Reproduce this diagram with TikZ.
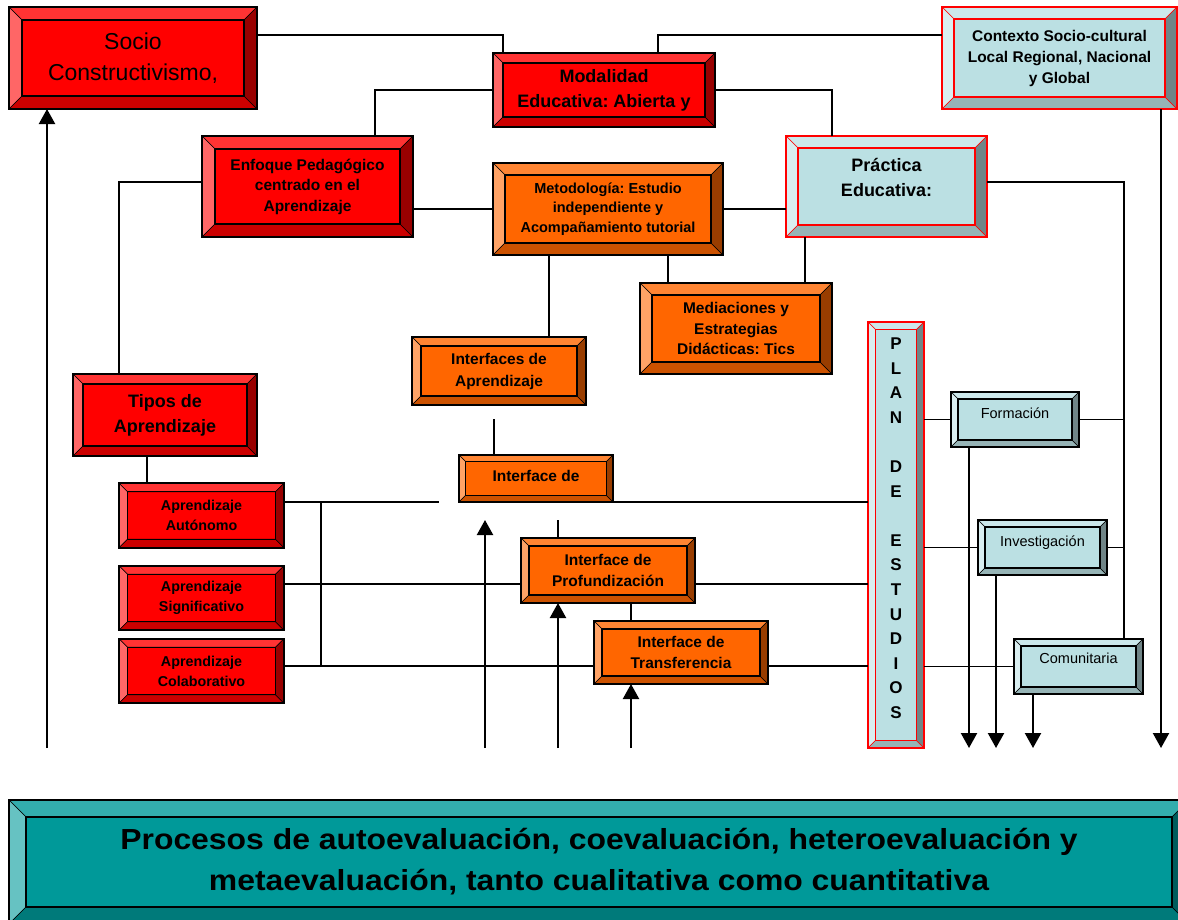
\documentclass[tikz,border=0pt]{standalone}
\usepackage{fontspec}
\setmainfont{Liberation Sans}
\newfontfamily\widefont[FakeStretch=1.1]{Liberation Sans}
\usetikzlibrary{arrows.meta}
\usetikzlibrary{calc}
\usepackage{xcolor}
\frenchspacing

\definecolor{rdtop}{HTML}{FF3333}
\definecolor{rdlft}{HTML}{FF6666}
\definecolor{rdbot}{HTML}{CC0000}
\definecolor{rdrgt}{HTML}{990000}
\definecolor{orface}{HTML}{FF6600}
\definecolor{ortop}{HTML}{FF8533}
\definecolor{orlft}{HTML}{FFA366}
\definecolor{orbot}{HTML}{CC5200}
\definecolor{orrgt}{HTML}{993D00}
\definecolor{bluface}{HTML}{BBE0E3}
\definecolor{blutop}{HTML}{CCE8EB}
\definecolor{blulft}{HTML}{D9EEF0}
\definecolor{blubot}{HTML}{96B4B6}
\definecolor{blurgt}{HTML}{708587}
\definecolor{tlface}{HTML}{009999}
\definecolor{tltop}{HTML}{33ADAD}
\definecolor{tllft}{HTML}{66C2C2}
\definecolor{tlbot}{HTML}{007A7A}
\definecolor{tlrgt}{HTML}{005C5C}

\def\bvw{10pt}
\def\pbb{path picture bounding box}
\newcommand\fsz[2]{\fontsize{#1}{#2}\selectfont}
\newcommand\liftup[2]{\raisebox{#1}[\height][\depth]{\begin{tabular}{@{}c@{}}#2\end{tabular}}}
% four bevel faces and the inner frame
\newcommand\bevelfaces[5]{%
  \path[draw=#5, line width=0.6pt, fill=#1] (\pbb.north west) -- (\pbb.north east)
    -- ([xshift=-\bvw,yshift=-\bvw]\pbb.north east) -- ([xshift=\bvw,yshift=-\bvw]\pbb.north west) -- cycle;
  \path[draw=#5, line width=0.6pt, fill=#2] (\pbb.north west) -- (\pbb.south west)
    -- ([xshift=\bvw,yshift=\bvw]\pbb.south west) -- ([xshift=\bvw,yshift=-\bvw]\pbb.north west) -- cycle;
  \path[draw=#5, line width=0.6pt, fill=#3] (\pbb.south west) -- (\pbb.south east)
    -- ([xshift=-\bvw,yshift=\bvw]\pbb.south east) -- ([xshift=\bvw,yshift=\bvw]\pbb.south west) -- cycle;
  \path[draw=#5, line width=0.6pt, fill=#4] (\pbb.north east) -- (\pbb.south east)
    -- ([xshift=-\bvw,yshift=\bvw]\pbb.south east) -- ([xshift=-\bvw,yshift=-\bvw]\pbb.north east) -- cycle;
  \draw[#5, line width=1.3pt] ([xshift=\bvw,yshift=-\bvw]\pbb.north west) rectangle ([xshift=-\bvw,yshift=\bvw]\pbb.south east);
}

\tikzset{
  bevelw/.code={\def\bvw{#1}},
  box/.style={line width=1.6pt, inner sep=0pt, outer sep=0pt, align=center, text=black},
  redbox/.style={box, draw=black, fill=red, path picture={\bevelfaces{rdtop}{rdlft}{rdbot}{rdrgt}{black}}},
  orabox/.style={box, draw=black, fill=orface, path picture={\bevelfaces{ortop}{orlft}{orbot}{orrgt}{black}}},
  blubox/.style={box, draw=red, fill=bluface, path picture={\bevelfaces{blutop}{blulft}{blubot}{blurgt}{red}}},
  grybox/.style={box, draw=black, fill=bluface, path picture={\bevelfaces{blutop}{blulft}{blubot}{blurgt}{black}}},
  tealbox/.style={box, draw=black, fill=tlface, path picture={\bevelfaces{tltop}{tllft}{tlbot}{tlrgt}{black}}},
  conn/.style={line width=1.5pt},
  arr/.style={line width=2.2pt, -{Triangle[length=15pt,width=16pt]}},
}

\begin{document}
\begin{tikzpicture}[x=1pt,y=-1pt]

        \path[use as bounding box, clip] (0,0) rectangle (1178,919);

        % Upper boxes
        \node[redbox, bevelw=13pt, minimum width=248pt, minimum height=102pt, font=\fsz{23}{31}] (soc) at (133,58) {Socio\\Constructivismo,};
        \node[redbox, bevelw=10pt, minimum width=222pt, minimum height=74pt, font=\bfseries\fsz{18}{25}] (mod) at (604,90) {Modalidad\\Educativa: Abierta y};
        \node[blubox, bevelw=12pt, minimum width=235pt, minimum height=102pt, font=\bfseries\fsz{15.5}{21}] (ctx) at (1059.5,58) {Contexto Socio-cultural\\Local Regional, Nacional\\y Global};
        \node[redbox, bevelw=13pt, minimum width=211pt, minimum height=101pt, font=\bfseries\fsz{15.5}{20.5}] (enf) at (307.5,186.5) {Enfoque Pedagógico\\centrado en el\\Aprendizaje};
        \node[orabox, bevelw=12pt, minimum width=230pt, minimum height=92pt, font=\bfseries\fsz{14.5}{19.5}] (met) at (608,209) {Metodología: Estudio\\independiente y\\Acompañamiento tutorial};
        \node[blubox, bevelw=12pt, minimum width=201pt, minimum height=101pt, font=\bfseries\fsz{18}{25}] (pra) at (886.5,186.5) {\liftup{7.5pt}{Práctica\\Educativa:}};
        \node[orabox, bevelw=12pt, minimum width=192pt, minimum height=91pt, font=\bfseries\fsz{15.5}{20.5}] (med) at (736,328.5) {Mediaciones y\\Estrategias\\Didácticas: Tics};

        % Interfaces
        \node[orabox, bevelw=9pt, minimum width=174pt, minimum height=68pt, font=\bfseries\fsz{15.5}{22}] (ifa) at (499,371) {Interfaces de\\Aprendizaje};
        \node[orabox, bevelw=6.5pt, minimum width=154pt, minimum height=47pt, font=\bfseries\fsz{15.5}{20.5}] (ifd) at (536,478.5) {\liftup{1.5pt}{Interface de}};
        \node[orabox, bevelw=8pt, minimum width=174pt, minimum height=65pt, font=\bfseries\fsz{15.5}{20.5}] (ipr) at (608,570.5) {Interface de\\Profundización};
        \node[orabox, bevelw=8pt, minimum width=174pt, minimum height=63pt, font=\bfseries\fsz{15.5}{20.5}] (itr) at (681,652.5) {Interface de\\Transferencia};

        % Learning types
        \node[redbox, bevelw=10pt, minimum width=184pt, minimum height=82pt, font=\bfseries\fsz{18}{25}] (tip) at (165,415) {Tipos de\\Aprendizaje};
        \foreach \nm/\y/\txt in {aut/515.5/Autónomo, sig/598/Significativo, col/671/Colaborativo}
        {
          \node[redbox, bevelw=8.5pt, minimum width=165pt, minimum height=64.5pt, font=\bfseries\fsz{14.3}{20}] (\nm) at (201.5,\y) {Aprendizaje\\\txt};
        }

        % Plan de estudios
        \node[blubox, bevelw=7.5pt, minimum width=56pt, minimum height=426pt, font=\bfseries\fsz{17}{24.6}] (plan) at (896,535) {\liftup{6pt}{P\\L\\A\\N\\[24.6pt]D\\E\\[24.6pt]E\\S\\T\\U\\D\\I\\O\\S}};
        \node[grybox, bevelw=7pt, minimum width=128pt, minimum height=55pt, font=\fsz{14.5}{18}] (frm) at (1015,419.5) {\liftup{5pt}{Formación}};
        \node[grybox, bevelw=7pt, minimum width=129pt, minimum height=55pt, font=\fsz{14.5}{18}] (inv) at (1042.5,547.5) {\liftup{5pt}{Investigación}};
        \node[grybox, bevelw=7pt, minimum width=129pt, minimum height=55pt, font=\fsz{14.5}{18}] (com) at (1078.5,666.5) {\liftup{6.5pt}{Comunitaria}};

        % Evaluation
        \node[tealbox, bevelw=17pt, minimum width=1180pt, minimum height=124pt, font=\widefont\bfseries\fsz{29}{41}] (eva) at (599,862) {Procesos de autoevaluación, coevaluación, heteroevaluación y\\metaevaluación, tanto cualitativa como cuantitativa};

        % Top connectors
        \draw[conn] ([yshift=23pt]soc.east) -| ([xshift=10pt]mod.north west);
        \draw[conn] ([xshift=54pt]mod.north) |- ([yshift=23pt]ctx.west);
        \draw[conn] (mod.west) -| ([xshift=67.5pt]enf.north);
        \draw[conn] (mod.east) -| ([xshift=-54.5pt]pra.north);
        \draw[conn] ([yshift=4.5pt]enf.west) -| ([xshift=-46pt]tip.north);
        \draw[conn] (met.west -| enf.east) -- (met.west);
        \draw[conn] (met.east) -- (met.east -| pra.west);

        % Branches below
        \coordinate (m1) at ([xshift=-59pt]met.south);
        \coordinate (m2) at ([xshift=60pt]met.south);
        \coordinate (p1) at ([xshift=-81.5pt]pra.south);
        \draw[conn] (m1) -- (m1 |- ifa.north);
        \draw[conn] (m2) -- (m2 |- med.north);
        \draw[conn] (p1) -- (p1 |- med.north);

        % Right bus
        \coordinate (bus) at ([xshift=45.5pt]com.north);
        \draw[conn] ([yshift=4.5pt]pra.east) -| (bus);
        \draw[conn] (frm.east) -- (frm.east -| bus);
        \draw[conn] (inv.east) -- (inv.east -| bus);
        \draw[conn] (frm.west -| plan.east) -- (frm.west);
        \draw[conn] (inv.west -| plan.east) -- (inv.west);
        \draw[conn] (com.west -| plan.east) -- (com.west);

        % Learning lines
        \draw[conn] ([xshift=-18pt]tip.south) -- ([xshift=-54.5pt]aut.north);
        \coordinate (au) at ([yshift=13.5pt]aut.east);
        \coordinate (sg) at ([yshift=14pt]sig.east);
        \coordinate (cl) at ([yshift=5pt]col.east);
        \coordinate (gap) at ([xshift=-20pt]ifd.south west);
        \draw[conn] (au) -- (gap);
        \draw[conn] (ifd.south east) -- (ifd.south east -| plan.west);
        \draw[conn] (sg) -- (sg -| ipr.west);
        \draw[conn] (sg -| ipr.east) -- (sg -| plan.west);
        \draw[conn] (cl) -- (cl -| itr.west);
        \draw[conn] (cl -| itr.east) -- (cl -| plan.west);
        \draw[conn] ([xshift=37pt]au) -- ([xshift=37pt]cl);

        % Between interfaces
        \coordinate (ia) at ([xshift=-5pt,yshift=-14pt]ifa.south);
        \draw[conn] (ia) -- (ia |- ifd.north);
        \coordinate (ip) at ([xshift=-50pt,yshift=18pt]ipr.north);
        \draw[conn] (ip) -- (ip |- ipr.north);
        \draw[conn] ([xshift=23pt]ipr.south) -- ([xshift=-50pt]itr.north);

        % Arrows up
        \coordinate (b1) at (47,748);
        \coordinate (b2) at (485,748);
        \coordinate (t2) at (485,520);
        \coordinate (b3) at (558,748);
        \coordinate (b4) at (631,748);
        \draw[arr] (b1) -- (b1 |- soc.south);
        \draw[arr] (b2) -- (t2);
        \draw[arr] (b3) -- (b3 |- ipr.south);
        \draw[arr] (b4) -- (b4 |- itr.south);

        % Arrows down
        \foreach \nm/\dx in {frm/-46, inv/-46.5, com/-45.5, ctx/101.5}
        {
          \coordinate (d\nm) at ([xshift=\dx pt]\nm.south);
          \draw[arr] (d\nm) -- (d\nm |- b1);
        }
\end{tikzpicture}
\end{document}
